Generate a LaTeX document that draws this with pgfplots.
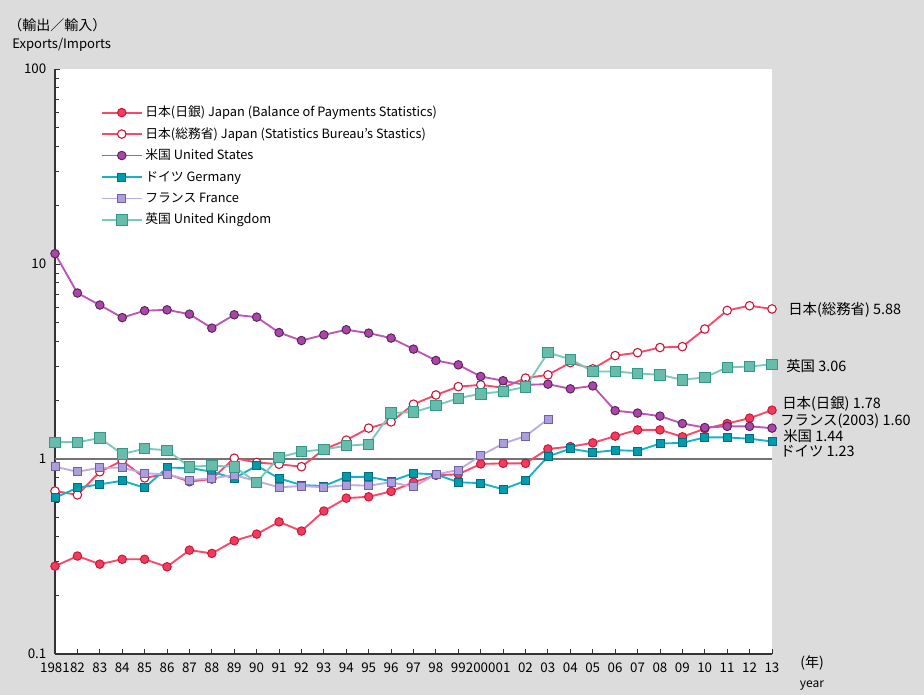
\documentclass[border=0pt]{standalone}
\usepackage{pgfplots}
\pgfplotsset{compat=1.18}
\usepackage{pgfplotstable}
\usepackage{fontspec}
\setmainfont{Noto Sans CJK JP}
\setsansfont{Noto Sans CJK JP}

\definecolor{bg}{RGB}{220,220,220}
\definecolor{jpline}{RGB}{250,72,105}
\definecolor{jpfill}{RGB}{242,60,92}
\definecolor{jpedge}{RGB}{200,20,55}
\definecolor{usline}{RGB}{190,85,185}
\definecolor{usfill}{RGB}{170,70,170}
\definecolor{usedge}{RGB}{85,35,85}
\definecolor{deline}{RGB}{20,180,198}
\definecolor{defill}{RGB}{0,155,172}
\definecolor{deedge}{RGB}{0,110,128}
\definecolor{frline}{RGB}{188,172,228}
\definecolor{frfill}{RGB}{172,158,218}
\definecolor{fredge}{RGB}{112,96,168}
\definecolor{ukline}{RGB}{122,202,188}
\definecolor{ukfill}{RGB}{104,188,172}
\definecolor{ukedge}{RGB}{52,152,132}

% year, Japan (BoP), Japan (Statistics Bureau), US, Germany, France, UK
\pgfplotstableread{
year jpb  jps  us   de    fr    uk
1981 0.282 0.685 11.3 0.633 0.913 1.22
1982 0.318 0.655 7.10 0.712 0.860 1.22
1983 0.289 0.860 6.16 0.741 0.902 1.28
1984 0.306 0.980 5.31 0.774 0.902 1.06
1985 0.306 0.800 5.76 0.712 0.845 1.13
1986 0.280 0.840 5.82 0.902 0.834 1.11
1987 0.341 0.765 5.53 0.900 0.780 0.913
1988 0.328 0.790 4.69 0.860 0.796 0.924
1989 0.381 1.010 5.49 0.796 0.827 0.913
1990 0.412 0.960 5.34 0.924 0.770 0.759
1991 0.476 0.940 4.45 0.796 0.716 1.02
1992 0.427 0.913 4.05 0.735 0.727 1.09
1993 0.541 1.120 4.33 0.727 0.716 1.12
1994 0.630 1.250 4.60 0.810 0.735 1.17
1995 0.640 1.440 4.42 0.810 0.730 1.19
1996 0.682 1.550 4.17 0.770 0.760 1.72
1997 0.760 1.910 3.66 0.845 0.720 1.74
1998 0.825 2.130 3.20 0.834 0.834 1.88
1999 0.835 2.350 3.04 0.760 0.878 2.05
2000 0.943 2.400 2.65 0.752 1.040 2.16
2001 0.950 2.320 2.52 0.699 1.200 2.22
2002 0.950 2.600 2.40 0.774 1.310 2.34
2003 1.126 2.700 2.42 1.030 1.600 3.51
2004 1.157 3.120 2.29 1.130 nan   3.25
2005 1.210 2.900 2.37 1.080 nan   2.81
2006 1.310 3.390 1.77 1.110 nan   2.81
2007 1.410 3.510 1.72 1.100 nan   2.75
2008 1.410 3.730 1.66 1.200 nan   2.70
2009 1.300 3.770 1.52 1.210 nan   2.55
2010 1.430 4.640 1.45 1.290 nan   2.62
2011 1.520 5.780 1.47 1.290 nan   2.95
2012 1.620 6.110 1.47 1.270 nan   2.98
2013 1.780 5.880 1.44 1.230 nan   3.06
}\data

\begin{document}
\begin{tikzpicture}
\begin{scope}[x=0.75pt,y=0.75pt]
\fill[bg] (0,0) rectangle (924,695);
\path[use as bounding box] (0,0) rectangle (924,695);
\end{scope}

\begin{axis}[
    at={(41.25pt,30.75pt)}, anchor=south west,
    scale only axis, width=537.75pt, height=438.75pt,
    xmin=1981, xmax=2013,
    ymode=log, ymin=0.1, ymax=100,
    axis background/.style={fill=white},
    axis x line*=bottom, axis y line*=left,
    axis line style={-, draw=black!80, line width=1pt},
    tick style={draw=black!80, line width=0.6pt},
    major tick length=4pt, minor tick length=3pt,
    xtick={1981,...,2013},
    xticklabels={1981,82,83,84,85,86,87,88,89,90,91,92,93,94,95,96,97,98,99,2000,01,02,03,04,05,06,07,08,09,10,11,12,13},
    ytick={0.1,1,10,100},
    yticklabels={0.1,1,10,100},
    ticklabel style={font=\fontsize{10}{12}\selectfont},
    yticklabel style={xshift=-3pt},
    xticklabel style={yshift=-3pt},
    /pgf/number format/assume math mode=true,
    legend style={draw=none, fill=none, at={(0.058,0.947)}, anchor=north west,
        font=\fontsize{9.6}{11}\selectfont, row sep=1.6pt,
        nodes={inner sep=2pt, text height=8.3pt, text depth=2.2pt}},
    legend cell align=left,
    legend image code/.code={\draw[mark repeat=2,mark phase=2] plot coordinates {(0pt,0pt) (15pt,0pt) (30pt,0pt)};},
]
\addplot[forget plot, draw=black!55, line width=1.4pt] coordinates {(1981,1) (2013,1)};

\addplot[jpline, line width=1.4pt, mark=*, mark size=3.2pt,
    mark options={fill=jpfill, draw=jpedge, line width=0.7pt}]
    table[x=year, y=jpb] {\data};
\addlegendentry{日本(日銀) Japan (Balance of Payments Statistics)}

\addplot[jpline, line width=1.4pt, mark=*, mark size=3.2pt,
    mark options={fill=white, draw=jpedge, line width=0.8pt}]
    table[x=year, y=jps] {\data};
\addlegendentry{日本(総務省) Japan (Statistics Bureau's Stastics)}

\addplot[usline, line width=1.4pt, mark=*, mark size=3.2pt,
    mark options={fill=usfill, draw=usedge, line width=0.7pt}]
    table[x=year, y=us] {\data};
\addlegendentry{米国 United States}

\addplot[deline, line width=1.4pt, mark=square*, mark size=3pt,
    mark options={fill=defill, draw=deedge, line width=0.6pt}]
    table[x=year, y=de] {\data};
\addlegendentry{ドイツ Germany}

\addplot[frline, line width=1.4pt, mark=square*, mark size=3pt,
    mark options={fill=frfill, draw=fredge, line width=0.6pt}]
    table[x=year, y=fr] {\data};
\addlegendentry{フランス France}

\addplot[ukline, line width=1.4pt, mark=square*, mark size=3.9pt,
    mark options={fill=ukfill, draw=ukedge, line width=0.6pt}]
    table[x=year, y=uk] {\data};
\addlegendentry{英国 United Kingdom}
\end{axis}

\begin{scope}[x=0.75pt,y=0.75pt]
\node[anchor=west, inner sep=0pt, font=\fontsize{10.5}{12}\selectfont] at (8,670) {（輸出／輸入）};
\node[anchor=west, inner sep=0pt, font=\fontsize{9.8}{12}\selectfont] at (12,650) {Exports/Imports};
\node[inner sep=0pt, font=\fontsize{10.5}{12}\selectfont] at (812,32) {(年)};
\node[inner sep=0pt, font=\fontsize{9}{11}\selectfont] at (812,9) {year};
\begin{scope}[font=\fontsize{10.8}{12}\selectfont]
\node[anchor=west, inner sep=0pt] at (788,385) {日本(総務省) 5.88};
\node[anchor=west, inner sep=0pt] at (786,329) {英国 3.06};
\node[anchor=west, inner sep=0pt] at (782,291) {日本(日銀) 1.78};
\node[anchor=west, inner sep=0pt] at (780,274) {フランス(2003) 1.60};
\node[anchor=west, inner sep=0pt] at (783,259) {米国 1.44};
\node[anchor=west, inner sep=0pt] at (780,244) {ドイツ 1.23};
\end{scope}
\end{scope}
\end{tikzpicture}
\end{document}
